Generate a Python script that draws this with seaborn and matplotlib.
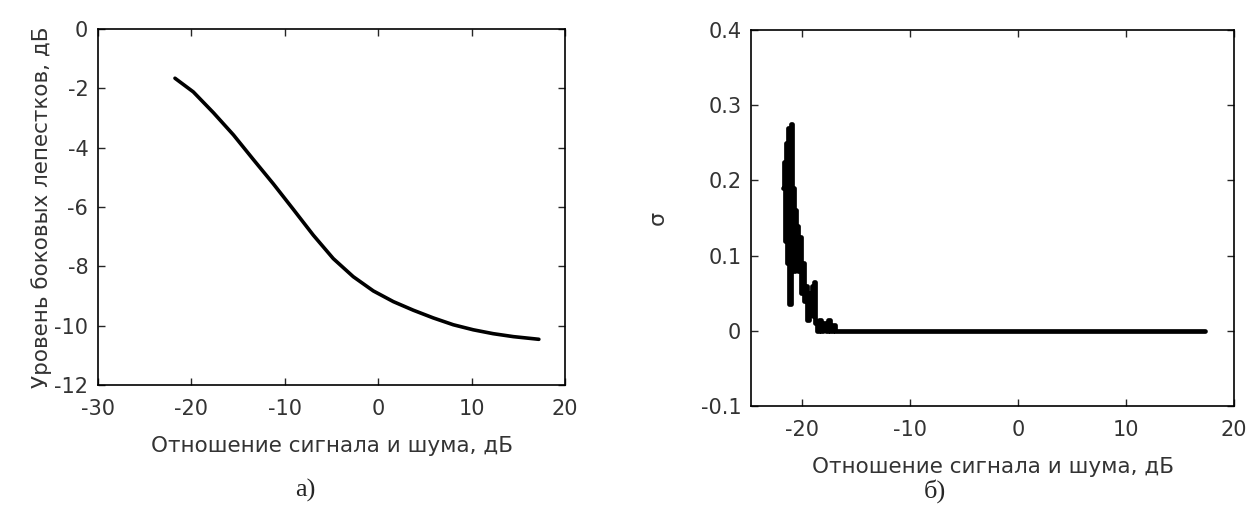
import pandas as pd
import seaborn as sns
import matplotlib.pyplot as plt

# левый график: уровень боковых лепестков
snr_a = [-21.76, -19.8, -17.65, -15.5, -13.37, -11.23, -9.09, -6.95, -4.81, -2.67, -0.52, 1.62,
         3.76, 5.9, 8.04, 10.18, 12.3, 14.47, 17.2]
level_a = [-1.66, -2.12, -2.82, -3.57, -4.40, -5.22, -6.08, -6.95, -7.74, -8.35, -8.83, -9.19,
           -9.48, -9.74, -9.97, -10.14, -10.27, -10.37, -10.46]

# правый график: сигма
snr_b = [-21.7, -21.6, -21.5, -21.4, -21.3, -21.2, -21.1, -21.0, -20.9, -20.8, -20.7, -20.6, -20.5,
         -20.4, -20.3, -20.2, -20.0, -19.9, -19.7, -19.6, -19.4, -19.3, -19.1, -19.0, -18.9, -18.8,
         -18.7, -18.5, -18.3, -18.1, -17.9, -17.7, -17.5, -17.3, -17.0, -16.8, 17.3]
sigma_b = [0.19, 0.225, 0.12, 0.25, 0.09, 0.27, 0.035, 0.275, 0.10, 0.19, 0.08, 0.16, 0.10,
           0.14, 0.08, 0.125, 0.05, 0.09, 0.04, 0.06, 0.015, 0.05, 0.03, 0.06, 0.02, 0.065,
           0.01, 0.0, 0.015, 0.0, 0.01, 0.0, 0.015, 0.0, 0.008, 0.0, 0.0]

df_a = pd.DataFrame({'x': snr_a, 'y': level_a})
df_b = pd.DataFrame({'x': snr_b, 'y': sigma_b})

sns.set_style('ticks')
plt.rcParams['font.family'] = ['DejaVu Sans']
plt.rcParams['axes.unicode_minus'] = False

fig = plt.figure(figsize=(12.47, 5.14), dpi=100)
ax1 = fig.add_axes([0.0786, 0.251, 0.4531 - 0.0786, 0.9436 - 0.251])
ax2 = fig.add_axes([0.6023, 0.2101, 0.9896 - 0.6023, 0.9416 - 0.2101])

sns.lineplot(data=df_a, x='x', y='y', ax=ax1, color='black', linewidth=2.6, estimator=None, sort=False)
sns.lineplot(data=df_b, x='x', y='y', ax=ax2, color='black', linewidth=3.4, estimator=None, sort=False,
             drawstyle='steps-mid')

xlabel = 'Отношение сигнала и шума, дБ'
ax1.set_xlim(-30, 20)
ax1.set_ylim(-12, 0)
ax1.set_xticks([-30, -20, -10, 0, 10, 20])
ax1.set_yticks([-12, -10, -8, -6, -4, -2, 0])
ax1.set_xlabel(xlabel, fontsize=15.5, color='#333333', labelpad=12)
ax1.set_ylabel('Уровень боковых лепестков, дБ', fontsize=15.5, color='#333333', labelpad=2)

ax2.set_xlim(-24.7, 20)
ax2.set_ylim(-0.1, 0.4)
ax2.set_xticks([-20, -10, 0, 10, 20])
ax2.set_yticks([-0.1, 0, 0.1, 0.2, 0.3, 0.4])
ax2.set_yticklabels(['-0.1', '0', '0.1', '0.2', '0.3', '0.4'])
ax2.set_xlabel(xlabel, fontsize=15.5, color='#333333', labelpad=12)
ax2.set_ylabel('σ', fontsize=16, color='#333333', labelpad=24)

for ax in (ax1, ax2):
    for s in ax.spines.values():
        s.set_visible(True)
        s.set_linewidth(1.2)
        s.set_color('black')
    ax.tick_params(direction='in', length=5, width=1, top=True, right=True,
                   labelsize=15, labelcolor='#333333')
    ax.tick_params(axis='x', pad=10)
    ax.tick_params(axis='y', pad=7)

fig.text(0.245, 0.045, 'а)', fontsize=19, family='Liberation Serif', ha='center', va='center')
fig.text(0.750, 0.045, 'б)', fontsize=19, family='Liberation Serif', ha='center', va='center')

plt.savefig('out.png', dpi=100)
